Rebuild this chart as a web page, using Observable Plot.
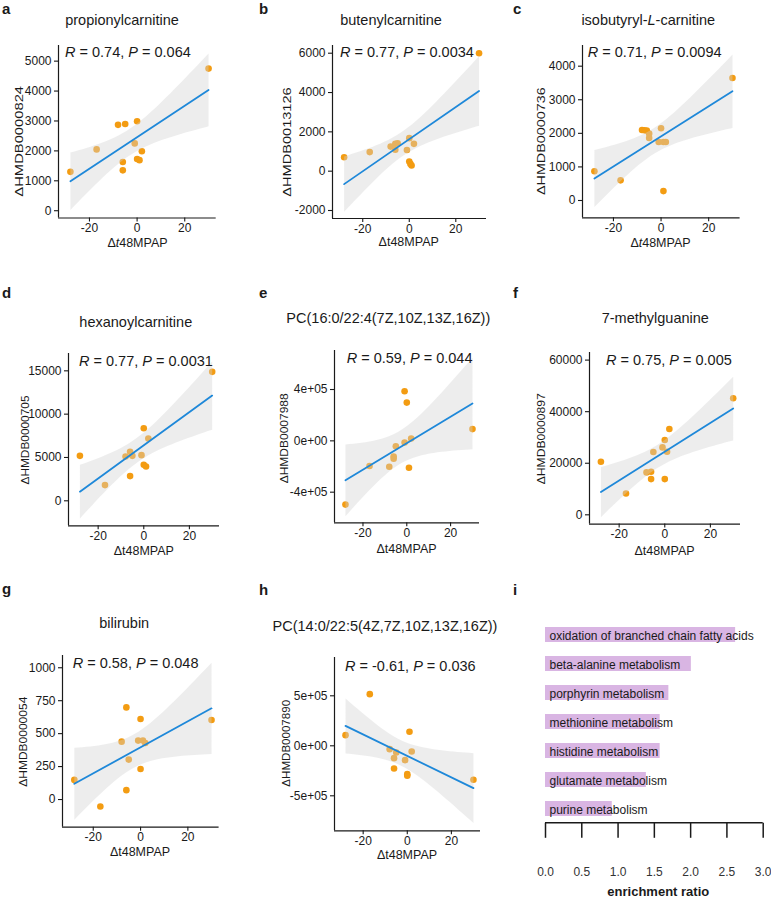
<!DOCTYPE html>
<html><head><meta charset="utf-8">
<script src="https://cdn.jsdelivr.net/npm/d3@7"></script>
<script src="https://cdn.jsdelivr.net/npm/@observablehq/plot@0.6"></script>
<style>
body{margin:0;background:#fff;}
#root{position:relative;width:771px;height:898px;overflow:hidden;background:#fff;}
#root svg{position:absolute;}
</style></head><body><div id="root"></div>
<script>
// ---------- data ----------
const xTicks = [-20, 0, 20];

const aX = [-28, -17, -8, -5, 0, -1, 2, -6, -6, 0, 1, 30];
const aY = [1300, 2050, 2870, 2900, 2990, 2250, 1990, 1630, 1350, 1730, 1690, 4750];
const aTicks = [0, 1000, 2000, 3000, 4000, 5000];

const bX = [-28, -17, -8, -6, -5, -6, 0, -1, 2, 0, 0.5, 1, 30];
const bY = [710, 970, 1250, 1390, 1420, 1090, 1680, 1080, 1390, 490, 370, 290, 6000];
const bTicks = [-2000, 0, 2000, 4000, 6000];

const cX = [-28, -17, -8, -7, -6, -5, -5, 0, -1, 1, 2, 1, 30];
const cY = [870, 600, 2100, 2090, 2080, 1990, 1860, 2150, 1740, 1740, 1740, 280, 3650];
const cTicks = [0, 1000, 2000, 3000, 4000];

const dX = [-28, -17, -8, -6, -5, -6, -1, 0, 2, 0, 1, 30];
const dY = [5190, 1810, 5110, 5650, 5190, 2850, 5270, 8380, 7190, 4150, 3960, 14880];
const dTicks = [0, 5000, 10000, 15000];

const eX = [-28, -17, -8, -6, -6, -5, -1, 2, -1, 0, 1, 30];
const eY = [-496700, -196000, -201300, -122900, -138600, -41800, -13100, 18300, 386900, 298000, -209200, 91500];
const eTicks = [-400000, 0, 400000];

const fX = [-28, -17, -8, -6, -6, -5, -1, 0, 0, 1, 2, 30];
const fY = [20580, 8290, 16440, 16700, 13850, 24340, 26150, 29000, 13850, 24470, 33270, 45180];
const fTicks = [0, 20000, 40000, 60000];

const gX = [-28, -17, -8, -6, -5, -6, -1, 1, 2, 0, 0, 30];
const gY = [149, -53, 439, 699, 303, 71, 447, 447, 429, 611, 232, 604];
const gTicks = [0, 250, 500, 750, 1000];

const hX = [-28, -17, -8, -6, -5, -6, -1, 2, 1, 0, 0, 30];
const hY = [106700, 516700, -33300, -123300, -66700, -226700, -143300, -56700, 140000, -283300, -300000, -340000];
const hTicks = [-500000, 0, 500000];

const pathways = ["oxidation of branched chain fatty acids", "beta-alanine metabolism", "porphyrin metabolism",
  "methionine metabolism", "histidine metabolism", "glutamate metabolism", "purine metabolism"];
const enrichment = [2.62, 2.01, 1.70, 1.58, 1.58, 1.39, 0.92];
const enrichTicks = [0, 0.5, 1, 1.5, 2, 2.5, 3];

const titles = ["propionylcarnitine", "butenylcarnitine", "isobutyryl-L-carnitine", "hexanoylcarnitine",
  "PC(16:0/22:4(7Z,10Z,13Z,16Z))", "7-methylguanine", "bilirubin", "PC(14:0/22:5(4Z,7Z,10Z,13Z,16Z))"];
const yLabels = ["ΔHMDB0000824", "ΔHMDB0013126", "ΔHMDB0000736", "ΔHMDB0000705",
  "ΔHMDB0007988", "ΔHMDB0000897", "ΔHMDB0000054", "ΔHMDB0007890"];
const rValues = ["0.74", "0.77", "0.71", "0.77", "0.59", "0.75", "0.58", "-0.61"];
const pValues = ["0.064", "0.0034", "0.0094", "0.0031", "0.044", "0.005", "0.048", "0.036"];

// ---------- style ----------
const FONT = "'Liberation Sans', Arial, sans-serif";
const ORANGE = "#f39c12";
const BLUE = "#1e88d9";
const INK = "#1a1a1a";
const xDomain = [-33, 33.2];
const plain = d => String(d);
const sci = d => d === 0 ? "0e+00" : `${d / 1e5}e+05`;

const layout = [
  {L:"a", lx:2, ly:14, x:aX, y:aY, ticks:aTicks, fmt:plain, frame:[58.3,216,45,217.5], ydom:[-243,5523],
   tx:122, ty:25, sx:65, sy:57, xl:[137.5,246.5], italT:true, yl:[19,141.3,110.7,10.5]},
  {L:"b", lx:259, ly:14, x:bX, y:bY, ticks:bTicks, fmt:plain, frame:[331.7,485.7,45,218], ydom:[-2407,6392],
   tx:391, ty:25, sx:340, sy:57, xl:[408.7,246], italT:false, yl:[287,142,109.3,10.5]},
  {L:"c", lx:513, ly:14, x:cX, y:cY, ticks:cTicks, fmt:plain, frame:[581.7,739.3,45,217.3], ydom:[-515,4616],
   tx:648.3, ty:25, sx:587.7, sy:57, xl:[660.5,246.7], italT:true, yl:[541.7,141.2,107.7,10.5]},
  {L:"d", lx:2, ly:297.5, x:dX, y:dY, ticks:dTicks, fmt:plain, frame:[68.3,219.3,352.7,525], ydom:[-2885,17000],
   tx:135.8, ty:327, sx:79, sy:366, xl:[143.8,555], italT:false, yl:[25.3,440,89,11.5]},
  {L:"e", lx:259, ly:297.5, x:eX, y:eY, ticks:eTicks, fmt:sci, frame:[334,479,350,522.3], ydom:[-638600,704000],
   tx:388.3, ty:323, sx:346.7, sy:363.3, xl:[406.5,553.3], italT:false, yl:[284,438.3,90,11.5]},
  {L:"f", lx:513, ly:297.5, x:fX, y:fY, ticks:fTicks, fmt:plain, frame:[589,740,351.7,523.3], ydom:[-3600,62950],
   tx:655.3, ty:323, sx:606, sy:365, xl:[664.5,555], italT:false, yl:[541,438.8,91,11.5]},
  {L:"g", lx:2, ly:594, x:gX, y:gY, ticks:gTicks, fmt:plain, frame:[61.7,218.3,655,826.7], ydom:[-210,1093],
   tx:124.2, ty:628.3, sx:72.7, sy:668.3, xl:[140,856], italT:false, yl:[22.5,741.7,90,11.5]},
  {L:"h", lx:259, ly:595, x:hX, y:hY, ticks:hTicks, fmt:sci, frame:[334,480,656.7,830], ydom:[-850000,883000],
   tx:385, ty:630.5, sx:345, sy:670.7, xl:[407,859.3], italT:false, yl:[285.8,743.3,86.7,11.5]}
];

const root = document.getElementById("root");

// ---------- scatter panels ----------
layout.forEach((p) => {
  const [L, R, T, B] = p.frame;
  const ml = 48, mr = 14, mt = 8, mb = 30;
  const data = p.x.map((x, i) => ({x, y: p.y[i]}));
  const chart = Plot.plot({
    width: R - L + ml + mr, height: B - T + mt + mb,
    marginLeft: ml, marginRight: mr, marginTop: mt, marginBottom: mb,
    style: {fontFamily: FONT, fontSize: "12px", color: INK, background: "transparent", overflow: "visible"},
    x: {domain: xDomain},
    y: {domain: p.ydom},
    marks: [
      Plot.axisX({ticks: xTicks, tickSize: 4, tickPadding: 1.5, tickFormat: plain, label: null, strokeWidth: 1.1, fontSize: 12}),
      Plot.axisY({ticks: p.ticks, tickSize: 4, tickPadding: 3, tickFormat: p.fmt, label: null, strokeWidth: 1.1, fontSize: 12}),
      Plot.dot(data, {x: "x", y: "y", r: 3.3, fill: ORANGE, stroke: "none"}),
      Plot.linearRegressionY(data, {x: "x", y: "y", stroke: BLUE, strokeWidth: 1.8, fill: "lightgray", fillOpacity: 0.4}),
      Plot.ruleX([xDomain[0]], {stroke: INK, strokeWidth: 1.2}),
      Plot.ruleY([p.ydom[0]], {stroke: INK, strokeWidth: 1.2})
    ]
  });
  chart.style.left = (L - ml) + "px";
  chart.style.top = (T - mt) + "px";
  root.appendChild(chart);
});

// ---------- enrichment panel ----------
const rows = pathways.map((name, i) => ({name, v: enrichment[i]}));
const iW = 251, iH = 298, iml = 25, imr = 8.3, imt = 19.8, imb = 75.2;
const chartI = Plot.plot({
  width: iW, height: iH, marginLeft: iml, marginRight: imr, marginTop: imt, marginBottom: imb,
  style: {fontFamily: FONT, fontSize: "12px", color: INK, background: "transparent", overflow: "visible"},
  x: {domain: [0, 3]},
  y: {domain: pathways, paddingInner: 0.5, paddingOuter: 0.25, axis: null},
  marks: [
    Plot.barX(rows, {x: "v", y: "name", fill: "#d9b5e3"}),
    Plot.text(rows, {x: 0, y: "name", text: "name", textAnchor: "start", dx: 4, dy: 1.5, fontSize: 12, fill: INK}),
    Plot.axisX({ticks: enrichTicks, tickSize: 15, tickPadding: 29.5, tickFormat: d3.format(".1f"), label: null, strokeWidth: 1.5, fontSize: 12, fill: "#333"})
  ]
});
chartI.style.left = "520px";
chartI.style.top = "600px";
root.appendChild(chartI);
{
  const sx = chartI.scale("x");
  d3.select(chartI).append("line")
    .attr("x1", sx.apply(enrichTicks[0])).attr("x2", sx.apply(enrichTicks[enrichTicks.length - 1]))
    .attr("y1", iH - imb).attr("y2", iH - imb)
    .attr("stroke", INK).attr("stroke-width", 1.6);
}

// ---------- text overlay ----------
const ov = d3.select(root).append("svg").attr("width", 771).attr("height", 898)
  .style("left", "0px").style("top", "0px").style("pointer-events", "none")
  .attr("font-family", FONT).attr("fill", INK);

function rich(x, y, parts, size, anchor, weight) {
  const t = ov.append("text").attr("x", x).attr("y", y).attr("font-size", size)
    .attr("text-anchor", anchor || "start");
  if (weight) t.attr("font-weight", weight);
  parts.forEach(([s, it]) => t.append("tspan").attr("font-style", it ? "italic" : null).text(s));
  return t;
}

layout.forEach((p, k) => {
  rich(p.lx, p.ly, [[p.L, false]], 15, "start", "bold");
  const title = titles[k];
  const tparts = title.includes("-L-")
    ? [[title.split("-L-")[0] + "-", false], ["L", true], ["-" + title.split("-L-")[1], false]]
    : [[title, false]];
  rich(p.tx, p.ty, tparts, 14.5, "middle");
  rich(p.sx, p.sy, [["R", true], [" = " + rValues[k] + ", ", false], ["P", true], [" = " + pValues[k], false]], 14.5, "start");
  rich(p.xl[0], p.xl[1], [["Δ", false], ["t", p.italT], ["48MPAP", false]], 12.5, "middle");
  const [cx, cy, len, fs] = p.yl;
  ov.append("text")
    .attr("transform", `translate(${cx},${cy}) rotate(-90)`)
    .attr("text-anchor", "middle").attr("dy", "0.36em")
    .attr("font-size", fs)
    .attr("textLength", len).attr("lengthAdjust", "spacingAndGlyphs")
    .text(yLabels[k]);
});
rich(513, 595, [["i", false]], 15, "start", "bold");
rich(658.3, 896, [["enrichment ratio", false]], 13, "middle", "bold");
</script>
</body></html>
